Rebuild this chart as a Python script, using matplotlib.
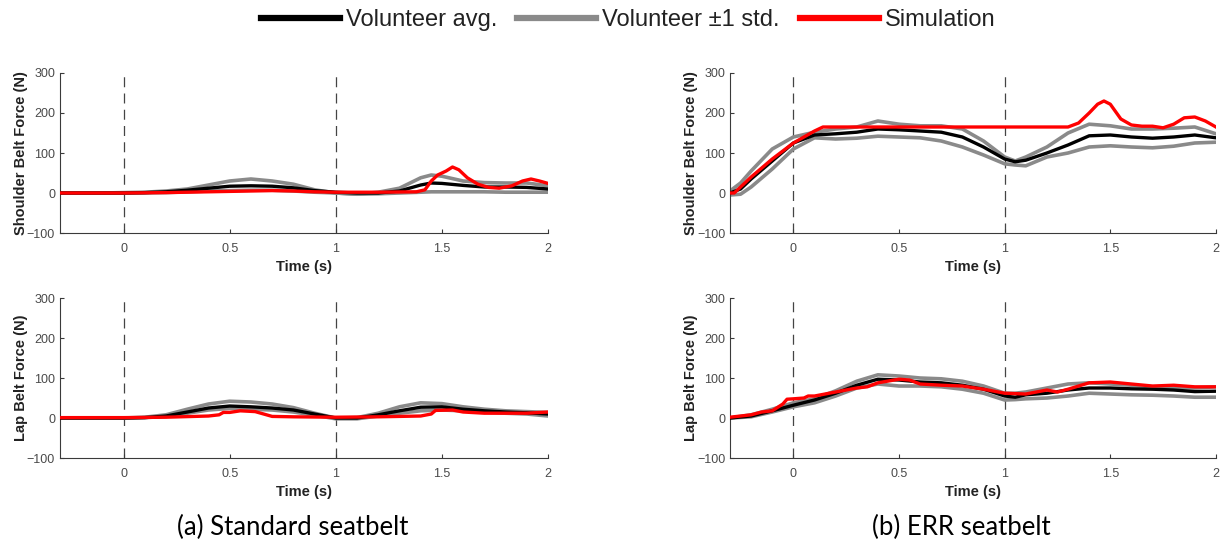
import matplotlib
matplotlib.use("Agg")
import matplotlib.pyplot as plt
from matplotlib.lines import Line2D

plt.rcParams["font.family"] = ["Liberation Sans", "DejaVu Sans"]

# ---- (a) standard seatbelt, shoulder ----
std_sh_t = [-0.3, -0.1, 0.0, 0.1, 0.2, 0.3, 0.4, 0.5, 0.6, 0.7, 0.8, 0.9, 1.0,
            1.1, 1.2, 1.3, 1.4, 1.45, 1.5, 1.6, 1.7, 1.8, 1.9, 2.0]
std_sh_avg = [0, 0, 0, 1, 3, 7, 12, 17, 18, 17, 13, 6, 2,
              0, 0, 5, 20, 25, 24, 19, 15, 15, 14, 10]
std_sh_hi = [0, 0, 1, 2, 5, 10, 20, 30, 35, 30, 22, 8, 0,
             -3, 2, 12, 38, 45, 42, 30, 26, 25, 25, 18]
std_sh_lo = [0, 0, 0, 0, 1, 3, 5, 6, 7, 7, 5, 2, 0,
             -3, -2, 0, 2, 3, 3, 3, 3, 2, 2, 2]
std_sh_sim_t = [-0.3, 0.0, 0.2, 0.4, 0.5, 0.6, 0.7, 0.8, 0.9, 1.0, 1.2, 1.38,
                1.42, 1.45, 1.48, 1.52, 1.55, 1.58, 1.62, 1.67, 1.72, 1.77,
                1.83, 1.88, 1.92, 1.96, 2.0]
std_sh_sim = [0, 0, 1, 3, 4, 5, 6, 5, 3, 2, 2, 3,
              8, 30, 45, 55, 65, 58, 38, 22, 14, 12,
              18, 30, 35, 30, 24]

# ---- (b) ERR seatbelt, shoulder ----
err_sh_t = [-0.3, -0.25, -0.2, -0.1, 0.0, 0.1, 0.2, 0.3, 0.4, 0.5, 0.6, 0.7,
            0.8, 0.9, 1.0, 1.05, 1.1, 1.2, 1.3, 1.4, 1.5, 1.6, 1.7, 1.8, 1.9, 2.0]
err_sh_avg = [0, 10, 35, 80, 125, 145, 148, 152, 160, 158, 155, 152,
              140, 115, 85, 78, 82, 100, 120, 143, 145, 140, 137, 140, 145, 138]
err_sh_hi = [5, 25, 55, 110, 140, 152, 160, 165, 180, 172, 168, 168,
             160, 130, 90, 80, 90, 115, 150, 172, 168, 160, 160, 162, 165, 148]
err_sh_lo = [-5, -3, 15, 60, 110, 138, 135, 137, 142, 140, 138, 130,
             115, 95, 73, 70, 68, 90, 100, 115, 118, 115, 113, 117, 125, 127]
err_sh_sim_t = [-0.3, -0.28, -0.2, -0.1, 0.0, 0.05, 0.1, 0.14, 1.3, 1.35, 1.4,
                1.44, 1.47, 1.5, 1.55, 1.6, 1.65, 1.7, 1.75, 1.8, 1.85, 1.9,
                1.95, 2.0]
err_sh_sim = [0, 0, 40, 85, 125, 140, 155, 165, 165, 175, 200,
              222, 230, 222, 185, 170, 167, 167, 163, 172, 188, 190,
              180, 165]

# ---- (a) standard seatbelt, lap ----
std_lap_t = [-0.3, 0.0, 0.1, 0.2, 0.3, 0.4, 0.5, 0.6, 0.7, 0.8, 0.9, 1.0,
             1.1, 1.2, 1.3, 1.4, 1.5, 1.6, 1.7, 1.8, 1.9, 2.0]
std_lap_avg = [0, 0, 1, 5, 15, 25, 30, 28, 25, 20, 10, 0,
               0, 8, 18, 27, 28, 22, 18, 15, 13, 10]
std_lap_hi = [0, 0, 2, 8, 22, 35, 42, 40, 35, 26, 12, 0,
              1, 12, 28, 38, 36, 28, 22, 18, 16, 14]
std_lap_lo = [0, 0, 1, 4, 12, 20, 24, 22, 20, 15, 7, -2,
              -2, 5, 12, 18, 20, 18, 15, 12, 10, 5]
std_lap_sim_t = [-0.3, 0.0, 0.2, 0.4, 0.45, 0.47, 0.5, 0.55, 0.62, 0.66, 0.7,
                 0.8, 1.0, 1.2, 1.4, 1.45, 1.47, 1.55, 1.6, 1.7, 1.8, 1.9, 2.0]
std_lap_sim = [1, 1, 2, 5, 8, 14, 14, 18, 16, 10, 4,
               3, 2, 3, 5, 10, 19, 20, 15, 12, 12, 12, 15]

# ---- (b) ERR seatbelt, lap ----
err_lap_t = [-0.3, -0.2, -0.1, 0.0, 0.1, 0.2, 0.3, 0.4, 0.5, 0.6, 0.7, 0.8,
             0.9, 1.0, 1.05, 1.1, 1.2, 1.3, 1.4, 1.5, 1.6, 1.7, 1.8, 1.9, 2.0]
err_lap_avg = [0, 5, 18, 32, 45, 62, 82, 97, 95, 90, 88, 82,
               72, 55, 52, 58, 62, 70, 75, 75, 73, 72, 70, 66, 67]
err_lap_hi = [0, 8, 22, 38, 48, 68, 92, 108, 105, 100, 98, 92,
              80, 62, 62, 65, 75, 85, 88, 85, 82, 78, 75, 75, 78]
err_lap_lo = [0, 3, 15, 28, 38, 55, 75, 85, 80, 80, 78, 72,
              62, 45, 46, 48, 50, 55, 62, 60, 58, 57, 55, 52, 52]
err_lap_sim_t = [-0.3, -0.2, -0.15, -0.1, -0.05, -0.03, 0.0, 0.05, 0.07, 0.1,
                 0.2, 0.3, 0.35, 0.4, 0.5, 0.55, 0.6, 0.7, 0.8, 0.9, 1.0, 1.1,
                 1.2, 1.25, 1.3, 1.35, 1.4, 1.5, 1.6, 1.7, 1.8, 1.9, 2.0]
err_lap_sim = [2, 8, 15, 18, 35, 47, 48, 50, 55, 55,
               65, 75, 78, 88, 97, 95, 85, 82, 80, 72, 62, 60,
               70, 65, 72, 80, 88, 90, 85, 80, 82, 78, 78]

x_ticks = [0, 0.5, 1, 1.5, 2]
x_tick_labels = ["0", "0.5", "1", "1.5", "2"]
y_ticks = [-100, 0, 100, 200, 300]

panels = [
    ([0.049, 0.5748, 0.3987, 0.292], "Shoulder Belt Force (N)",
     std_sh_t, std_sh_avg, std_sh_hi, std_sh_lo, std_sh_sim_t, std_sh_sim),
    ([0.5964, 0.5748, 0.397, 0.292], "Shoulder Belt Force (N)",
     err_sh_t, err_sh_avg, err_sh_hi, err_sh_lo, err_sh_sim_t, err_sh_sim),
    ([0.049, 0.1642, 0.3987, 0.292], "Lap Belt Force (N)",
     std_lap_t, std_lap_avg, std_lap_hi, std_lap_lo, std_lap_sim_t, std_lap_sim),
    ([0.5964, 0.1642, 0.397, 0.292], "Lap Belt Force (N)",
     err_lap_t, err_lap_avg, err_lap_hi, err_lap_lo, err_lap_sim_t, err_lap_sim),
]

AVG_COLOR = "#000000"
STD_COLOR = "#8a8a8a"
SIM_COLOR = "#ff0000"
AXIS_COLOR = "#3a3a3a"
TICK_TEXT = "#4a4a4a"

fig = plt.figure(figsize=(12.24, 5.48), dpi=100)

for rect, ylabel, t, avg, hi, lo, sim_t, sim in panels:
    ax = fig.add_axes(rect)
    ax.axvline(0, color="#444444", linestyle=(0, (8, 5)), linewidth=0.9, zorder=1)
    ax.axvline(1, color="#444444", linestyle=(0, (8, 5)), linewidth=0.9, zorder=1)
    ax.plot(t, hi, color=STD_COLOR, linewidth=2.6, zorder=2)
    ax.plot(t, lo, color=STD_COLOR, linewidth=2.6, zorder=2)
    ax.plot(t, avg, color=AVG_COLOR, linewidth=2.4, zorder=3)
    ax.plot(sim_t, sim, color=SIM_COLOR, linewidth=2.4, zorder=4)

    ax.set_xlim(-0.3, 2)
    ax.set_ylim(-100, 300)
    ax.set_xticks(x_ticks)
    ax.set_xticklabels(x_tick_labels)
    ax.set_yticks(y_ticks)
    ax.tick_params(direction="in", length=3, width=0.8, color=AXIS_COLOR,
                   labelsize=9, labelcolor=TICK_TEXT)
    ax.tick_params(axis="x", pad=7)
    ax.tick_params(axis="y", pad=3.5)
    for side in ["top", "right"]:
        ax.spines[side].set_visible(False)
    for side in ["left", "bottom"]:
        ax.spines[side].set_color(AXIS_COLOR)
        ax.spines[side].set_linewidth(0.8)
    ax.set_xlabel("Time (s)", fontsize=10.5, fontweight="bold", labelpad=4,
                  color="#222222")
    ax.set_ylabel(ylabel, fontsize=10.5, fontweight="bold", labelpad=-1,
                  color="#222222")

handles = [
    Line2D([], [], color=AVG_COLOR, linewidth=4.5),
    Line2D([], [], color=STD_COLOR, linewidth=4.5),
    Line2D([], [], color=SIM_COLOR, linewidth=4.5),
]
fig.legend(handles, ["Volunteer avg.", "Volunteer \u00b11 std.", "Simulation"],
           loc="center", bbox_to_anchor=(0.513, 0.9635), ncol=3, frameon=False,
           fontsize=17, handlelength=3.35, handletextpad=0.25, columnspacing=0.85,
           labelcolor="#222222")

fig.text(0.239, 0.038, "(a) Standard seatbelt", ha="center", va="center",
         fontsize=18.5, family=["Lato", "DejaVu Sans"])
fig.text(0.785, 0.038, "(b) ERR seatbelt", ha="center", va="center",
         fontsize=18.5, family=["Lato", "DejaVu Sans"])

fig.savefig("out.png", dpi=100)
